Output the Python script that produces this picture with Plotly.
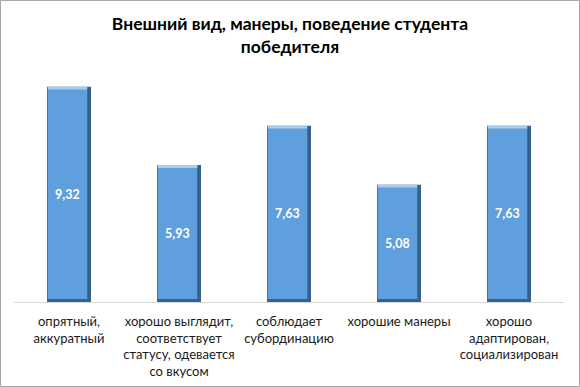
import plotly.graph_objects as go

categories = ["опрятный,<br>аккуратный",
              "хорошо выглядит,<br>соответствует<br>статусу, одевается<br>со вкусом",
              "соблюдает<br>субординацию",
              "хорошие манеры",
              "хорошо<br>адаптирован,<br>социализирован"]
values = [9.32, 5.93, 7.63, 5.08, 7.63]
labels = ["9,32", "5,93", "7,63", "5,08", "7,63"]

W, H = 580, 387
L, R, T, B = 14, 16, 71, 85
pw, ph = W - L - R, H - T - B

bw = 0.4
edge = 0.13  # value units for top/bottom bevel

fig = go.Figure()
# dark base (shadow / right & bottom edges)
fig.add_trace(go.Bar(x=categories, y=values, width=bw, offset=-bw/2,
                     marker=dict(color="#35618C", line=dict(width=0)),
                     hoverinfo="skip", showlegend=False))
# main face
fig.add_trace(go.Bar(x=categories, y=[v - 2*edge for v in values], base=[edge]*5,
                     width=bw - 0.04, offset=-bw/2 + 0.006,
                     marker=dict(color="#5F9FDD", line=dict(width=0)),
                     text=labels, textposition="inside", insidetextanchor="middle",
                     textangle=0,
                     textfont=dict(color="white", size=12.5, family="Lato", weight="bold"),
                     hoverinfo="skip", showlegend=False))
# light top bevel
fig.add_trace(go.Bar(x=categories, y=[edge]*5, base=[v - edge for v in values],
                     width=bw - 0.04, offset=-bw/2 + 0.006,
                     marker=dict(color="#A9CDEE", line=dict(width=0)),
                     hoverinfo="skip", showlegend=False))

fig.update_layout(
    width=W, height=H,
    margin=dict(l=L, r=R, t=T, b=B, autoexpand=False),
    barmode="overlay",
    plot_bgcolor="white", paper_bgcolor="white",
    title=dict(text="<b>Внешний вид, манеры, поведение студента<br>победителя</b>",
               x=0.5, xanchor="center", y=1 - 30/H, yanchor="middle",
               font=dict(family="Lato", size=17.5, color="black")),
    xaxis=dict(showline=True, linecolor="#D9D9D9", linewidth=1, ticks="",
               tickfont=dict(family="Lato", size=13, color="#1a1a1a"),
               ticklabelstandoff=7, automargin=False,
               showgrid=False, fixedrange=True),
    yaxis=dict(range=[0, 10], visible=False, showgrid=False, fixedrange=True,
               automargin=False),
    shapes=[dict(type="rect", xref="paper", yref="paper",
                 x0=(0.5 - L)/pw, x1=(W - 0.5 - L)/pw,
                 y0=(T + ph - (H - 0.5))/ph, y1=(T + ph - 0.5)/ph,
                 line=dict(color="#A6A6A6", width=1))],
)

fig.write_html("out.html", config={"displayModeBar": False},
               post_script="document.body.style.margin='0';document.body.style.overflow='hidden';")
